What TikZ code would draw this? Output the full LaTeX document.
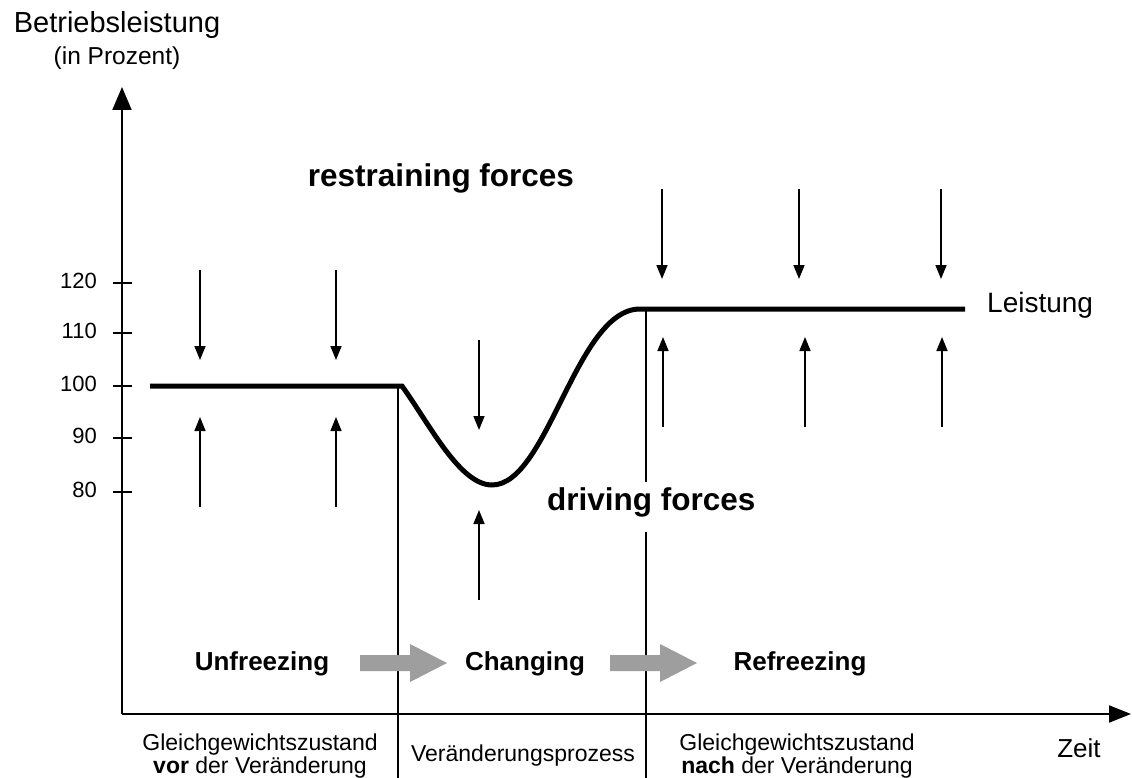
\documentclass[tikz,border=0pt]{standalone}
\usepackage{fontspec}
\setmainfont{Liberation Sans}
\usetikzlibrary{arrows.meta}
\definecolor{phasegray}{gray}{0.62}
\begin{document}
\begin{tikzpicture}[x=1pt,y=-1pt,
  txt/.style={inner sep=0pt, anchor=base},
  ticklbl/.style={inner sep=0pt, anchor=base east, font=\fontsize{22}{26}\selectfont},
  axislbl/.style={txt, font=\fontsize{29}{34}\selectfont},
  sublbl/.style={txt, font=\fontsize{23}{27}\selectfont},
  forcelbl/.style={txt, font=\fontsize{31.5}{36}\selectfont\bfseries},
  phaselbl/.style={txt, font=\fontsize{26}{30}\selectfont\bfseries},
  axis/.style={line width=2pt},
  sep/.style={line width=2pt},
  perf/.style={line width=5pt, line join=miter},
  force/.style={line width=1.6pt, -{Triangle[length=14pt,width=11pt]}},
  phasearrow/.style={fill=phasegray, draw=none}
]
\useasboundingbox (0,0) rectangle (1132,778);

% axes
\coordinate (origin) at (122,714);
\coordinate (ytip) at (122,87);
\coordinate (xtip) at (1131,714);
\draw[axis, -{Triangle[length=23pt,width=19pt]}] (origin) -- (ytip);
\draw[axis, -{Triangle[length=22pt,width=17pt]}] (origin) -- (xtip);

% axis titles
\node[axislbl] (ytitle) at (117,33) {Betriebsleistung};
\node[txt, font=\fontsize{24.5}{29}\selectfont] (yunit) at (117,65) {(in Prozent)};
\node[txt, font=\fontsize{26}{30}\selectfont] (xtitle) at (1079,757) {Zeit};

% ticks and their values
\foreach \v/\yy in {120/283, 110/333, 100/386, 90/438, 80/492} {
  \draw[line width=1.6pt] (113,\yy) -- (132,\yy);
  \node[ticklbl] (tick\v) at (97,\yy+5) {\v};
}

% phase separators
\coordinate (sepA top) at (398,386);
\coordinate (sepA bot) at (398,778);
\coordinate (sepB top) at (646,309);
\coordinate (sepB gap1) at (646,482);
\coordinate (sepB gap2) at (646,532);
\coordinate (sepB bot) at (646,778);
\draw[sep] (sepA top) -- (sepA bot);
\draw[sep] (sepB top) -- (sepB gap1);
\draw[sep] (sepB gap2) -- (sepB bot);

% performance curve
\draw[perf] (150,386) -- (402,386)
  .. controls (430,425) and (460,485) .. (492,485)
  .. controls (548,485) and (576,309) .. (640,309)
  -- (965,309);
\node[txt, anchor=base west, font=\fontsize{28}{32}\selectfont] (perflbl) at (987,312) {Leistung};

% restraining forces (down) and driving forces (up)
\foreach \xx in {200,336} {
  \draw[force] (\xx,270) -- (\xx,360);
  \draw[force] (\xx,507) -- (\xx,417);
}
\draw[force] (479,340) -- (479,430);
\draw[force] (479,600) -- (479,510);
\foreach \xd/\xu in {662/663, 799/805, 941/942} {
  \draw[force] (\xd,189) -- (\xd,279);
  \draw[force] (\xu,427) -- (\xu,337);
}
\node[forcelbl] (restrain) at (441,187) {restraining forces};
\node[forcelbl, anchor=base west] (drive) at (547,510) {driving forces};

% phases
\node[phaselbl] (unfreeze) at (262,670) {Unfreezing};
\node[phaselbl] (change) at (525,670) {Changing};
\node[phaselbl] (refreeze) at (800,670) {Refreezing};
\foreach \ax in {360,610} {
  \path[phasearrow] (\ax,655) -- (\ax+50,655) -- (\ax+50,644) -- (\ax+87,663)
    -- (\ax+50,682) -- (\ax+50,671) -- (\ax,671) -- cycle;
}

% states below the time axis
\node[sublbl] (before1) at (260,750) {Gleichgewichtszustand};
\node[sublbl] (before2) at (260,773) {\textbf{vor} der Veränderung};
\node[sublbl] (during) at (523,761) {Veränderungsprozess};
\node[sublbl] (after1) at (797,750) {Gleichgewichtszustand};
\node[sublbl] (after2) at (797,773) {\textbf{nach} der Veränderung};
\end{tikzpicture}
\end{document}
